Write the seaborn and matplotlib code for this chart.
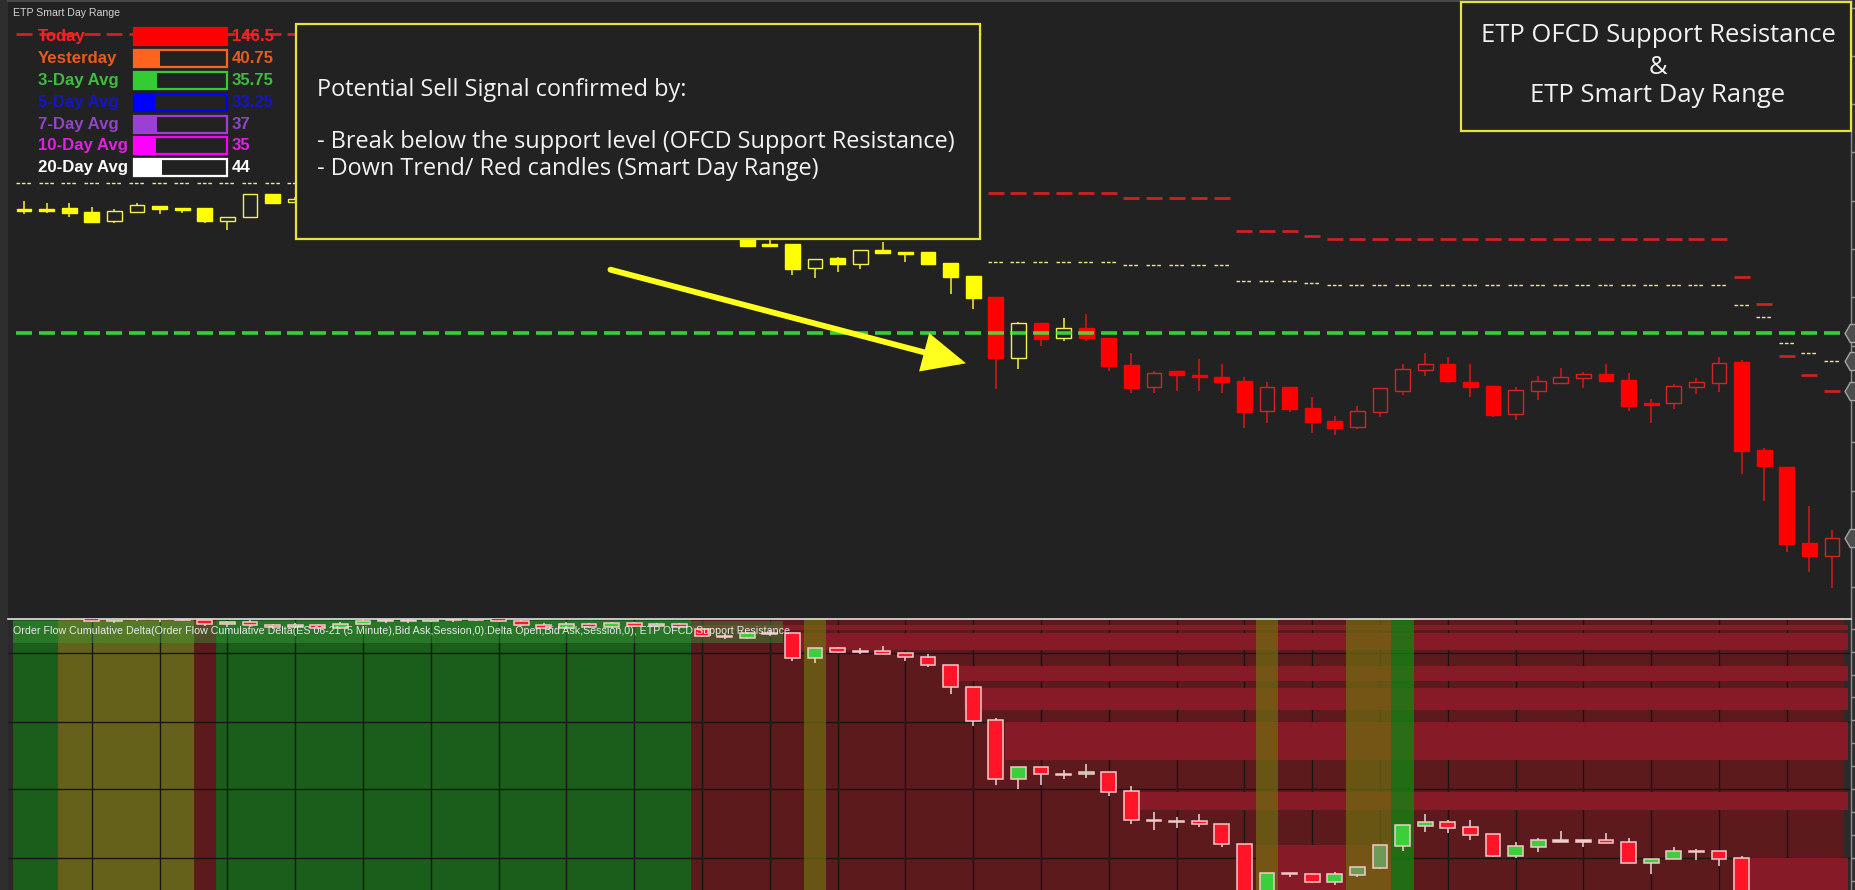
import numpy as np
import pandas as pd
import matplotlib
matplotlib.use("Agg")
import matplotlib.pyplot as plt
import seaborn as sns
from matplotlib.patches import Rectangle, FancyArrowPatch, ArrowStyle
from matplotlib import font_manager

# ---------------------------------------------------------------- data
# Price levels are read as chart rows (the y axis is inverted: larger = lower price)
top_open = [209, 209, 207.7, 212, 221, 212, 205.7, 208.3, 208, 221, 216.7, 194.3, 202,
            199, 204, 210, 205, 212, 218, 213, 219, 224, 220, 225, 221, 227, 231, 226, 230, 233, 229, 233,
            236, 244, 244, 267.7, 258, 264.3, 250, 252, 252, 263, 276,
            296.7, 357.7, 322.7, 337.7, 327.7, 337.7, 365, 386.7, 370.7, 375.3, 377, 380.7,
            411.3, 386.7, 408, 420.7, 426.7, 412.3, 390.7, 370, 364, 382, 386, 414.3, 390.7, 382.7,
            377.7, 374, 380, 403, 403.3, 386.7, 383.3,
            361.7, 450, 466.7, 543.3, 556]
top_close = [209.5, 209.5, 213, 222, 211.3, 205.3, 208.7, 209, 221, 216.7, 194.3, 202.7, 199,
             204, 210, 205, 212, 218, 213, 219, 224, 220, 225, 221, 227, 231, 226, 230, 233, 229, 233, 230,
             245.7, 244.5, 268.7, 259, 263.7, 250.3, 252.7, 253.3, 263.7, 276.7, 297.7,
             357.7, 323.3, 339, 328.3, 337.7, 366, 388.3, 373, 375, 376, 381.7, 411.7,
             387.3, 409, 421.7, 427.7, 411, 388.3, 369.3, 364, 381, 386.7, 415, 390, 381, 377.3,
             374, 380.7, 406, 403.7, 386, 382, 363.3,
             450.7, 466, 544, 556, 538.3]
top_high = [200.7, 203.3, 203.3, 206.7, 209, 203.3, 205.7, 208.3, 208, 216.7, 194.3, 194.3, 197,
            197, 202, 203, 204, 210, 211, 212, 217, 218, 219, 219, 220, 225, 224, 224, 228, 227, 227, 228,
            234, 240, 244, 259, 256.7, 250.3, 241.7, 252, 252, 262.5, 276,
            296.7, 321.7, 322.7, 317.7, 314.3, 337.7, 352.7, 370.7, 370.7, 359, 364, 377,
            382.3, 386.7, 396.7, 416, 405.7, 388.3, 364.3, 353.3, 357.3, 364.3, 386, 386.7, 375.7, 368.3,
            372.3, 364, 373.3, 399.3, 384, 378, 356.7,
            360, 448.3, 466.7, 505.7, 530]
top_low = [214.3, 213.3, 216.7, 222, 222.7, 213.3, 214.3, 213.3, 223.3, 230, 218.3, 202.7, 203,
           206, 212, 211, 214, 220, 219, 222, 226, 226, 228, 227, 229, 233, 232, 232, 235, 235, 236, 236,
           246.5, 246.7, 275, 277.7, 271.7, 268.7, 252.7, 261.7, 263.7, 293.7, 309,
           389.3, 369, 345.7, 341, 341, 370.7, 393, 393, 390.7, 390.7, 393, 428.3,
           423.3, 411.7, 433.3, 435, 429.3, 416.7, 395, 375.7, 383.3, 397.3, 417.3, 420, 400, 382.7,
           388.3, 380.7, 410.7, 422.7, 409, 394, 391.7,
           474, 500.7, 551.7, 571.7, 588.3]
# Smart Day Range candle colour: Y = yellow, R = red
top_color = "Y" * 43 + "RYRY" + "R" * 34

# Smart Day Range hash levels (per bar)
red_hash = [34] * 43 + [192.7] * 6 + [197.7] * 5 + [230.7] * 3 + [236] + [238.7] * 18 + [276.7, 304, 356, 375, 390.7]
yellow_hash = [182.7] * 43 + [262.3] * 6 + [265] * 5 + [281.3] * 3 + [283.3] + [285.3] * 18 + [304.7, 317, 342.7, 353.3, 361.3]
support_level = 332.7

# Order Flow Cumulative Delta candles (same inverted row units)
bot_open = [612, 616, 614, 617, 621, 619, 617, 619, 620, 624,
            622, 625, 627, 625, 628, 624, 621, 620, 621, 619,
            620, 618, 621, 625, 628, 624, 627, 623, 626, 624,
            629, 636, 638, 633, 633.3, 658.3, 648.3, 651, 651, 653.3,
            657, 665.3, 687, 720.3, 779.3, 766.7, 774, 774.3, 772.3, 791.3,
            819.5, 821, 821, 824.3, 844.3, 895, 873, 874.3, 881.7, 874.7,
            867.7, 845.7, 825.7, 822.3, 827, 834, 855.7, 846.7, 840.3, 840.3,
            840.3, 842.3, 863.3, 859.3, 851, 851.3, 858.3, 910, 925, 960, 965]
bot_close = [616, 613, 617, 621, 619, 617, 619, 620, 624, 622,
             625, 627, 625, 628, 624, 621, 620, 621, 619, 620,
             618, 621, 625, 628, 624, 627, 623, 626, 624, 627,
             636, 637, 633, 634, 658.3, 648.3, 651.7, 651.5, 653.7, 657.3,
             665.3, 687.3, 720.7, 779.3, 766.7, 774.3, 774.6, 771.7, 791.7, 819.7,
             820, 821.5, 824.3, 844.3, 896, 873.3, 874.3, 881.7, 874.3, 867.3,
             845, 825, 822.3, 827.7, 835, 855.7, 846, 840.3, 840.6, 840.6,
             843, 863.3, 859.3, 851.3, 851.6, 858.7, 910, 925, 960, 965, 958]
bot_high = [610, 611, 612, 615, 617, 615, 616, 617, 619, 621,
            620, 624, 623, 624, 622, 619, 618, 619, 618, 618,
            617, 617, 620, 623, 622, 623, 622, 622, 623, 623,
            628, 634, 632, 630, 633, 648.3, 646.7, 648.3, 645.7, 653.3,
            654.3, 665.3, 687, 718.3, 766.7, 766.7, 770, 764, 772.3, 786.3,
            811.7, 816.7, 814.3, 824.3, 844.3, 873.3, 873, 874.3, 871.7, 867.3,
            845, 825, 814, 820, 820, 834, 842, 838.3, 831, 840,
            833.3, 837.7, 859.3, 847, 849, 851.3, 856, 905, 920, 955, 950]
bot_low = [618, 618, 620, 622, 623, 621, 622, 621, 626, 627,
           627, 629, 628, 629, 629, 625, 623, 623, 622, 622,
           621, 622, 626, 629, 629, 628, 628, 627, 627, 629,
           637, 639, 639, 636, 660.7, 663.3, 653.3, 654, 653.7, 660.7,
           667.3, 694, 726, 785, 789, 785, 779.3, 778.3, 795.7, 824,
           830, 827.7, 826.7, 846.7, 900, 898, 877.3, 883.3, 885, 876.7,
           869, 851, 831.7, 833.3, 840, 857, 857.7, 852.3, 840.6, 846.7,
           843, 863.3, 874, 859.3, 860, 865.7, 915, 930, 965, 970, 968]
bot_muted = [59, 60]

# OFCD support / resistance background: per-bar state and resistance zones
bar_state = "GGOOOOOOD" + "G" * 21 + "D" * 51          # G green, O olive, D dark red
overlay_state = {35: "O", 55: "O", 59: "O", 60: "O", 61: "G"}
zone_top = [625, 633.3, 665.7, 687.7, 721.7, 791.7, 845, 858.3]
zone_bottom = [630, 650, 681, 710, 760, 810, 890, 890]
zone_start = [29.5, 34.4, 40.6, 41.6, 43.4, 49.4, 54.5, 75.6]
zone_end = [80.7, 80.7, 80.7, 80.7, 80.7, 80.7, 60.5, 80.7]

# Smart Day Range legend
leg_labels = ["Today", "Yesterday", "3-Day Avg", "5-Day Avg", "7-Day Avg", "10-Day Avg", "20-Day Avg"]
leg_values = [146.5, 40.75, 35.75, 33.25, 37, 35, 44]

arrow_from = (25.95, 269.7)
arrow_to = (41.68, 363.3)

callout_lines = ["Potential Sell Signal confirmed by:",
                 "- Break below the support level (OFCD Support Resistance)",
                 "- Down Trend/ Red candles (Smart Day Range)"]
title_lines = ["ETP OFCD Support Resistance", "&", "ETP Smart Day Range"]
panel_label = ("Order Flow Cumulative Delta(Order Flow Cumulative Delta(ES 06-21 (5 Minute),Bid Ask,"
               "Session,0).Delta Open,Bid Ask,Session,0), ETP OFCD Support Resistance")

# ---------------------------------------------------------------- style
sns.set_theme(style="dark", rc={"axes.facecolor": "#222222", "figure.facecolor": "#2e2e2e",
                                "axes.edgecolor": "#8c8c8c", "axes.grid": False})
plt.rcParams["font.family"] = ["Liberation Sans", "DejaVu Sans"]
available = {f.name for f in font_manager.fontManager.ttflist}
GEO = ["Open Sans", "DejaVu Sans"]
NARROW = ["Liberation Sans Narrow", "Liberation Sans"] if "Liberation Sans Narrow" in available else ["Liberation Sans"]

W, H = 1855, 890
PX_BAR, X0 = 22.6, 24.0
LEFT, RIGHT = 8, 1851
fig = plt.figure(figsize=(W / 100, H / 100), dpi=100)


def fx(px):
    return px / W


def fy(py):
    return 1 - py / H


xlim = ((LEFT - X0) / PX_BAR, (RIGHT - X0) / PX_BAR)
ax = fig.add_axes([fx(LEFT), fy(618), (RIGHT - LEFT) / W, 617 / H])
axb = fig.add_axes([fx(LEFT), 0, (RIGHT - LEFT) / W, 271 / H])
axb.set_facecolor("#2a2a2a")

for a, (y0, y1), ticks in ((ax, (618, 1), np.arange(7.5, 618, 48.3)),
                           (axb, (890, 619), np.arange(628.8, 890, 22.9))):
    a.set_xlim(*xlim)
    a.set_ylim(y0, y1)
    for s in ("left", "bottom", "top"):
        a.spines[s].set_visible(False)
    a.spines["right"].set_color("#8c8c8c")
    a.spines["right"].set_linewidth(1)
    a.set_yticks(ticks)
    a.yaxis.set_ticks_position("right")
    a.tick_params(axis="y", right=True, left=False, labelright=False, labelleft=False,
                  length=4, width=1, color="#9a9a9a", direction="out")
    a.tick_params(axis="x", bottom=False, labelbottom=False)
    a.set_xlabel("")
    a.set_ylabel("")
ax.spines["top"].set_visible(True)
ax.spines["top"].set_color("#4e4e4e")
axb.spines["top"].set_visible(True)
axb.spines["top"].set_color("#e0e0e0")
axb.spines["top"].set_linewidth(1.2)

x = np.arange(len(top_open))

# ---------------------------------------------------------------- top panel
to, tc, th, tl = map(np.array, (top_open, top_close, top_high, top_low))
down = tc >= to
fill_col = {"Y": "#ffff00", "R": "#ff0000"}
hollow_edge = {"Y": "#f6f04c", "R": "#d42424"}
wick_col = {"Y": "#f6f03c", "R": "#dd1515"}
face = [fill_col[k] if d else "#222222" for k, d in zip(top_color, down)]
edge = [fill_col[k] if d else hollow_edge[k] for k, d in zip(top_color, down)]
ax.vlines(x, th, tl, colors=[wick_col[k] for k in top_color], lw=1.1, zorder=3)
ax.bar(x, np.maximum(np.abs(tc - to), 1.6), bottom=np.minimum(to, tc), width=0.66,
       color=face, edgecolor=edge, linewidth=1, zorder=3.1)

ax.hlines(red_hash, x - 0.35, x + 0.35, colors="#cc2222", lw=2, zorder=2)
ax.hlines(yellow_hash, x - 0.35, x + 0.35, colors="#f2e88a", lw=1, linestyles=(0, (2.6, 1.3)), zorder=2)
ax.hlines([support_level] * len(x), x - 0.35, x + 0.35, colors="#40ff40", lw=2.6, alpha=0.78, zorder=5)

arrow = FancyArrowPatch(posA=arrow_from, posB=arrow_to,
                        arrowstyle=ArrowStyle("-|>", head_length=24, head_width=11),
                        mutation_scale=1, lw=4.2, color="#ffff1e", shrinkA=0, shrinkB=0,
                        joinstyle="miter", zorder=6)
ax.add_patch(arrow)

marker_levels = [support_level, yellow_hash[-1], red_hash[-1], top_close[-1]]
ax.plot([(W - X0) / PX_BAR] * 4, marker_levels, ls="none", marker="H", ms=15,
        mfc="#4d4d4d", mec="#a5a5a5", mew=1, clip_on=False, zorder=10)

# ---------------------------------------------------------------- bottom panel
base_col = {"G": "#1b5d1b", "O": "#65611b", "D": "#5c1a1d"}
bcols = [base_col[s] for s in bar_state]
axb.bar(x, 271, bottom=619, width=1.0, color=bcols, edgecolor=bcols, linewidth=0.6, zorder=0.5)
axb.vlines(np.arange(3, 81, 3), 619, 890, colors="#161616", lw=1, zorder=0.6)
axb.hlines([653.3, 721.7, 789.3, 857.7], xlim[0], xlim[1], colors="#161616", lw=1, zorder=0.6)
for t, b, s, e in zip(zone_top, zone_bottom, zone_start, zone_end):
    axb.add_patch(Rectangle((s, t), e - s, b - t, facecolor="#861b27", lw=0, zorder=0.7))
ov_col = {"O": ("#6e6c10", 0.72), "G": ("#128412", 0.78)}
for i, s in overlay_state.items():
    c, al = ov_col[s]
    axb.bar(i, 271, bottom=619, width=1.0, color=c, alpha=al, lw=0, zorder=0.8)
axb.add_patch(Rectangle((-0.5, 620.5), 34.1, 22.8, facecolor="#3aa03a", alpha=0.4, lw=0, zorder=0.9))

bo, bc, bh, bl = map(np.array, (bot_open, bot_close, bot_high, bot_low))
bface = []
for i in range(len(bo)):
    d = bc[i] - bo[i]
    if abs(d) < 1.0:
        bface.append("#f2e2e2")
    elif i in bot_muted:
        bface.append("#6f9a55")
    elif d > 0:
        bface.append("#ff1428")
    else:
        bface.append("#3ccf3c")
axb.vlines(x, bh, bl, colors="#f0d8d8", lw=1.1, zorder=3)
axb.bar(x, np.maximum(np.abs(bc - bo), 1.4), bottom=np.minimum(bo, bc), width=0.66,
        color=bface, edgecolor="#f3caca", linewidth=1.1, zorder=3.1)

# ---------------------------------------------------------------- legend (Smart Day Range)
row0, row_h = 36.7, 21.83
axl = fig.add_axes([fx(134), fy(row0 + row_h * 6.5), (226.7 - 134) / W, row_h * 7 / H])
bar_colors = ["#ff0000", "#ff641e", "#33cc33", "#0000ff", "#9b40d2", "#ff00ff", "#ffffff"]
text_colors = ["#ff2020", "#ea5a20", "#3dbd3d", "#1515c8", "#8f45c4", "#e022e0", "#ffffff"]
df_leg = pd.DataFrame({"label": leg_labels, "value": leg_values})
sns.barplot(data=df_leg, x="value", y="label", hue="label", palette=bar_colors, legend=False,
            ax=axl, width=0.78, saturation=1, orient="h", linewidth=0)
outl = axl.barh(range(len(leg_labels)), [max(leg_values)] * len(leg_labels), height=0.78,
                fill=False, edgecolor=bar_colors, lw=1.6)
for p in outl:
    p.set_clip_on(False)
axl.set_xlim(0, max(leg_values))
axl.set_ylim(len(leg_labels) - 0.5, -0.5)
axl.axis("off")

leg_texts = []
for k, (lab, v, col) in enumerate(zip(leg_labels, leg_values, text_colors)):
    yk = fy(row0 + row_h * k)
    leg_texts.append(fig.text(fx(38), yk, lab, color=col, fontsize=11.5, fontweight="bold",
                              va="center", ha="left"))
    leg_texts.append(fig.text(fx(231.7), yk, f"{v:g}", color=col, fontsize=11.5, fontweight="bold",
                              va="center", ha="left"))
t_title = fig.text(fx(13), fy(13), "ETP Smart Day Range", color="#d4d4d4", fontsize=7.6,
                   va="center", ha="left")

# ---------------------------------------------------------------- callout boxes


def box(x0, y0, x1, y1):
    fig.add_artist(Rectangle((fx(x0), fy(y1)), (x1 - x0) / W, (y1 - y0) / H, transform=fig.transFigure,
                             facecolor="#222222", edgecolor="#e8e23c", lw=1.6, zorder=1))


box(296, 24, 980, 239)
box(1460.7, 1.5, 1850.7, 130.7)
c_texts = [fig.text(fx(317), fy(yy), s, color="#f2f2f2", fontsize=15.5, family=GEO, va="center", ha="left")
           for s, yy in zip(callout_lines, [89.5, 142.3, 169])]
t_texts = [fig.text(fx(1658), fy(yy), s, color="#f2f2f2", fontsize=17.5, family=GEO, va="center", ha="center")
           for s, yy in zip(title_lines, [36, 68, 96])]
t_panel = fig.text(fx(12.8), fy(631), panel_label, color="#e8e8e8", fontsize=8.5, family=NARROW,
                   va="center", ha="left")

# ---------------------------------------------------------------- fit text widths to the reference
fig.canvas.draw()
renderer = fig.canvas.get_renderer()


def fit(texts, ref, target):
    w = ref.get_window_extent(renderer).width
    f = target / w
    for t in texts:
        t.set_fontsize(t.get_fontsize() * f)


fit(c_texts, c_texts[1], 639)
fit(t_texts, t_texts[0], 355)
fit([t_panel], t_panel, 765)
fit([t_title], t_title, 107)
fit(leg_texts, leg_texts[12], 90)

fig.savefig("out.png", dpi=100, facecolor=fig.get_facecolor())
